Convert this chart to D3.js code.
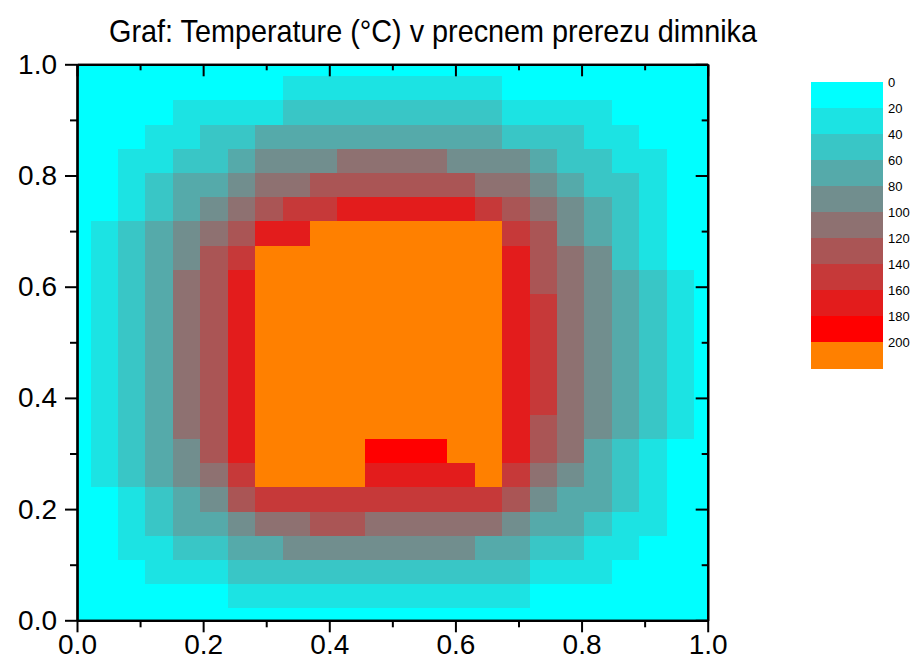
<!DOCTYPE html>
<html>
<head>
<meta charset="utf-8">
<script src="https://cdn.jsdelivr.net/npm/d3@7/dist/d3.min.js"></script>
<style>
  body { margin: 0; background: #fff; }
  svg text { font-family: "Liberation Sans", Arial, sans-serif; fill: #000; }
</style>
</head>
<body>
<div id="chart"></div>
<script>
// grid nodes (x from left to right, y from top to bottom)
var gridX = [0.000, 0.043, 0.087, 0.130, 0.174, 0.217, 0.261, 0.304, 0.348, 0.391, 0.435, 0.478,
  0.522, 0.565, 0.609, 0.652, 0.696, 0.739, 0.783, 0.826, 0.870, 0.913, 0.957, 1.000];
var gridY = [1.000, 0.957, 0.913, 0.870, 0.826, 0.783, 0.739, 0.696, 0.652, 0.609, 0.565, 0.522,
  0.478, 0.435, 0.391, 0.348, 0.304, 0.261, 0.217, 0.174, 0.130, 0.087, 0.043, 0.000];

// temperature (°C) at each node, one row per gridY value
var temperature = [
  [10, 10, 10, 10, 10, 10, 10, 10, 10, 10, 10, 10, 10, 10, 10, 10, 10, 10, 10, 10, 10, 10, 10, 10],
  [10, 10, 10, 10, 10, 10, 10, 10, 30, 30, 30, 30, 30, 30, 30, 30, 10, 10, 10, 10, 10, 10, 10, 10],
  [10, 10, 10, 10, 30, 30, 30, 30, 50, 50, 50, 50, 50, 50, 50, 50, 30, 30, 30, 30, 10, 10, 10, 10],
  [10, 10, 10, 30, 30, 50, 50, 70, 70, 70, 70, 70, 70, 70, 70, 70, 50, 50, 50, 30, 30, 10, 10, 10],
  [10, 10, 30, 30, 50, 50, 70, 90, 90, 90, 110, 110, 110, 110, 90, 90, 90, 70, 50, 50, 30, 30, 10, 10],
  [10, 10, 30, 50, 70, 70, 90, 110, 110, 130, 130, 130, 130, 130, 130, 110, 110, 90, 70, 50, 50, 30, 10, 10],
  [10, 10, 30, 50, 70, 90, 110, 130, 150, 150, 170, 170, 170, 170, 170, 150, 130, 110, 90, 70, 50, 30, 10, 10],
  [10, 30, 50, 70, 90, 110, 130, 170, 170, 210, 210, 210, 210, 210, 210, 210, 150, 130, 90, 70, 50, 30, 10, 10],
  [10, 30, 50, 70, 90, 130, 150, 210, 210, 210, 210, 210, 210, 210, 210, 210, 170, 130, 110, 90, 50, 30, 10, 10],
  [10, 30, 50, 70, 110, 130, 170, 210, 210, 210, 210, 210, 210, 210, 210, 210, 170, 130, 110, 90, 70, 50, 30, 10],
  [10, 30, 50, 70, 110, 130, 170, 210, 210, 210, 210, 210, 210, 210, 210, 210, 170, 150, 110, 90, 70, 50, 30, 10],
  [10, 30, 50, 70, 110, 130, 170, 210, 210, 210, 210, 210, 210, 210, 210, 210, 170, 150, 110, 90, 70, 50, 30, 10],
  [10, 30, 50, 70, 110, 130, 170, 210, 210, 210, 210, 210, 210, 210, 210, 210, 170, 150, 110, 90, 70, 50, 30, 10],
  [10, 30, 50, 70, 110, 130, 170, 210, 210, 210, 210, 210, 210, 210, 210, 210, 170, 150, 110, 90, 70, 50, 30, 10],
  [10, 30, 50, 70, 110, 130, 170, 210, 210, 210, 210, 210, 210, 210, 210, 210, 170, 150, 110, 90, 70, 50, 30, 10],
  [10, 30, 50, 70, 110, 130, 170, 210, 210, 210, 210, 210, 210, 210, 210, 210, 170, 130, 110, 90, 70, 50, 30, 10],
  [10, 30, 50, 70, 90, 130, 170, 210, 210, 210, 210, 190, 190, 190, 210, 210, 170, 130, 110, 70, 50, 30, 10, 10],
  [10, 30, 50, 70, 90, 110, 150, 210, 210, 210, 210, 170, 170, 170, 170, 210, 150, 110, 90, 70, 50, 30, 10, 10],
  [10, 10, 30, 50, 70, 90, 130, 150, 150, 150, 150, 150, 150, 150, 150, 150, 130, 90, 70, 70, 50, 30, 10, 10],
  [10, 10, 30, 50, 70, 70, 90, 110, 110, 130, 130, 110, 110, 110, 110, 110, 90, 70, 70, 50, 30, 30, 10, 10],
  [10, 10, 30, 30, 50, 50, 70, 70, 90, 90, 90, 90, 90, 90, 90, 70, 70, 50, 50, 30, 30, 10, 10, 10],
  [10, 10, 10, 30, 30, 30, 50, 50, 50, 50, 50, 50, 50, 50, 50, 50, 50, 30, 30, 30, 10, 10, 10, 10],
  [10, 10, 10, 10, 10, 10, 30, 30, 30, 30, 30, 30, 30, 30, 30, 30, 30, 10, 10, 10, 10, 10, 10, 10],
  [10, 10, 10, 10, 10, 10, 10, 10, 10, 10, 10, 10, 10, 10, 10, 10, 10, 10, 10, 10, 10, 10, 10, 10]
];

var levels = [0, 20, 40, 60, 80, 100, 120, 140, 160, 180, 200];
var levelColors = ["#00ffff", "#1ce3e3", "#39c6c6", "#55aaaa", "#718e8e", "#8e7171",
  "#aa5555", "#c63939", "#e31c1c", "#ff0000", "#ff8000"];
var majorTicks = [0, 0.2, 0.4, 0.6, 0.8, 1.0];
var minorTicks = [0.1, 0.3, 0.5, 0.7, 0.9];
var title = "Graf: Temperature (°C) v precnem prerezu dimnika";

var width = 919, height = 672;
var plot = { left: 77, right: 707.7, top: 64.3, bottom: 620.3 };

var svg = d3.select( "#chart" ).append( "svg" )
  .attr( "width", width )
  .attr( "height", height );

var x = d3.scaleLinear().domain( [0, 1] ).range( [plot.left, plot.right] );
var y = d3.scaleLinear().domain( [0, 1] ).range( [plot.bottom, plot.top] );
var color = d3.scaleThreshold().domain( levels.slice( 1 ) ).range( levelColors );

// half-way edges between nodes, clipped to the domain
function cellEdges( grid, i ) {
  var a = i === 0 ? grid[0] : ( grid[i - 1] + grid[i] ) / 2;
  var b = i === grid.length - 1 ? grid[i] : ( grid[i] + grid[i + 1] ) / 2;
  return [Math.min( a, b ), Math.max( a, b )];
}

var cells = [];
temperature.forEach( function ( row, r ) {
  row.forEach( function ( v, c ) {
    cells.push( { ex: cellEdges( gridX, c ), ey: cellEdges( gridY, r ), value: v } );
  } );
} );

svg.append( "g" ).selectAll( "rect" )
  .data( cells )
  .enter().append( "rect" )
  .attr( "x", function ( d ) { return x( d.ex[0] ); } )
  .attr( "y", function ( d ) { return y( d.ey[1] ); } )
  .attr( "width", function ( d ) { return x( d.ex[1] ) - x( d.ex[0] ) + 0.5; } )
  .attr( "height", function ( d ) { return y( d.ey[0] ) - y( d.ey[1] ) + 0.5; } )
  .attr( "fill", function ( d ) { return color( d.value ); } )
  .attr( "shape-rendering", "crispEdges" );

// axes
function styleAxis( g ) {
  g.selectAll( ".domain" ).attr( "stroke-width", 2.2 );
  g.selectAll( ".tick line" ).attr( "stroke-width", 2 );
  g.selectAll( "text" ).style( "font-size", "28px" ).style( "font-family", "Liberation Sans, Arial, sans-serif" );
}

svg.append( "g" )
  .attr( "transform", "translate(0," + plot.bottom + ")" )
  .call( d3.axisBottom( x ).tickValues( majorTicks ).tickSize( 12 ).tickSizeOuter( 0 ).tickPadding( 2 ).tickFormat( d3.format( ".1f" ) ) )
  .call( styleAxis );
svg.append( "g" )
  .attr( "transform", "translate(0," + plot.bottom + ")" )
  .call( d3.axisBottom( x ).tickValues( minorTicks ).tickSize( 7 ).tickSizeOuter( 0 ).tickFormat( "" ) )
  .call( styleAxis );

svg.append( "g" )
  .attr( "transform", "translate(" + plot.left + ",0)" )
  .call( d3.axisLeft( y ).tickValues( majorTicks ).tickSize( 12 ).tickSizeOuter( 0 ).tickPadding( 8 ).tickFormat( d3.format( ".1f" ) ) )
  .call( styleAxis );
svg.append( "g" )
  .attr( "transform", "translate(" + plot.left + ",0)" )
  .call( d3.axisLeft( y ).tickValues( minorTicks ).tickSize( 7 ).tickSizeOuter( 0 ).tickFormat( "" ) )
  .call( styleAxis );

svg.append( "g" )
  .attr( "transform", "translate(0," + plot.top + ")" )
  .call( d3.axisTop( x ).tickValues( majorTicks ).tickSize( -12 ).tickSizeOuter( 0 ).tickFormat( "" ) )
  .call( styleAxis );
svg.append( "g" )
  .attr( "transform", "translate(0," + plot.top + ")" )
  .call( d3.axisTop( x ).tickValues( minorTicks ).tickSize( -6 ).tickSizeOuter( 0 ).tickFormat( "" ) )
  .call( styleAxis );

svg.append( "g" )
  .attr( "transform", "translate(" + plot.right + ",0)" )
  .call( d3.axisRight( y ).tickValues( majorTicks ).tickSize( -12 ).tickSizeOuter( 0 ).tickFormat( "" ) )
  .call( styleAxis );
svg.append( "g" )
  .attr( "transform", "translate(" + plot.right + ",0)" )
  .call( d3.axisRight( y ).tickValues( minorTicks ).tickSize( -6 ).tickSizeOuter( 0 ).tickFormat( "" ) )
  .call( styleAxis );

// title, slightly condensed like the original
svg.append( "text" )
  .attr( "transform", "translate(433,42) scale(0.9,1)" )
  .attr( "text-anchor", "middle" )
  .style( "font-size", "32px" )
  .text( title );

// colour legend
var legend = { x: 811, y: 82, w: 72, h: 26 };
var lg = svg.append( "g" );
lg.selectAll( "rect" )
  .data( levels )
  .enter().append( "rect" )
  .attr( "x", legend.x )
  .attr( "y", function ( d, i ) { return legend.y + i * legend.h; } )
  .attr( "width", legend.w )
  .attr( "height", legend.h + 0.5 )
  .attr( "fill", function ( d ) { return color( d ); } )
  .attr( "shape-rendering", "crispEdges" );
lg.selectAll( "text" )
  .data( levels )
  .enter().append( "text" )
  .attr( "x", legend.x + legend.w + 5 )
  .attr( "y", function ( d, i ) { return legend.y + i * legend.h; } )
  .attr( "dy", "0.35em" )
  .style( "font-size", "13px" )
  .text( function ( d ) { return d; } );
</script>
</body>
</html>
